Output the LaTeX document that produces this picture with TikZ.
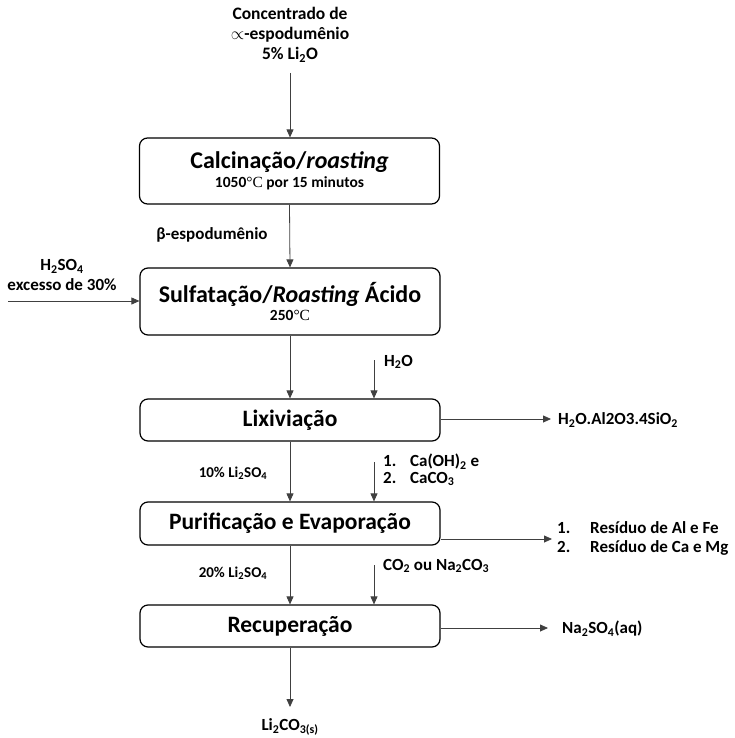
\documentclass[tikz,border=0pt]{standalone}
\usepackage{fontspec}
\setmainfont{Carlito}
\newfontfamily\degfont{Liberation Serif}
\usetikzlibrary{arrows.meta}
\newcommand{\degC}{{\degfont\mdseries °C}}
\newcommand{\sub}[1]{\textsubscript{#1}}
\tikzset{
  procbox/.style={draw=black, line width=1.2pt, rounded corners=8pt, align=center,
    inner sep=0pt, minimum width=300pt, font=\bfseries\fontsize{15.5}{18.5}\selectfont},
  flow/.style={draw=black!75, line width=0.8pt, -{Triangle[length=8pt,width=7pt]}},
  lbl/.style={font=\bfseries\fontsize{17}{19}\selectfont, inner sep=0pt},
  smalllbl/.style={font=\bfseries\fontsize{15}{17}\selectfont, inner sep=0pt}
}
\begin{document}
\begin{tikzpicture}[x=1pt,y=-1pt]
\useasboundingbox (0,0) rectangle (734,738);

% top feed
\node[lbl, align=center, font=\bfseries\fontsize{17.5}{20}\selectfont] (conc) at (290,35)
  {Concentrado de\\$\propto$-espodumênio\\5\% Li\sub{2}O};
\coordinate (cTop) at (290,73);

% boxes
\node[procbox, minimum height=66pt] (b1) at (289.5,171)
  {{\fontsize{24}{24}\selectfont Calcinação/\textit{roasting}}\\
   1050\degC{} por 15 minutos};
\node[procbox, minimum height=67pt] (b2) at (290,301.5)
  {{\fontsize{24}{24}\selectfont Sulfatação/\textit{Roasting} Ácido}\\
   250\degC};
\node[procbox, minimum height=42pt] (b3) at (290,420)
  {\fontsize{23.5}{24}\selectfont Lixiviação};
\node[procbox, minimum height=43pt] (b4) at (290,523.5)
  {\fontsize{23.5}{24}\selectfont Purificação e Evaporação};
\node[procbox, minimum height=42pt] (b5) at (290,626)
  {\fontsize{23.5}{24}\selectfont Recuperação};

% main vertical flow
\draw[flow] (cTop) -- (cTop |- b1.north);
\draw[flow] (b1.south) -- (b2.north);
\draw[flow] (b2.south) -- (b3.north);
\draw[flow] (b3.south) -- (b4.north);
\draw[flow] (b4.south) -- (b5.north);
\coordinate (prod) at (290,707);
\draw[flow] (b5.south) -- (prod);
\node[lbl] (li2co3) at (290,727) {Li\sub{2}CO\sub{3(s)}};

% labels on main flow
\node[lbl] (beta) at (212,235) {β-espodumênio};
\node[smalllbl] (l10) at (233,473) {10\% Li\sub{2}SO\sub{4}};
\node[smalllbl] (l20) at (233,573) {20\% Li\sub{2}SO\sub{4}};

% H2SO4 feed
\node[lbl, align=center, font=\bfseries\fontsize{17}{20}\selectfont] (h2so4) at (62,275) {H\sub{2}SO\sub{4}\\excesso de 30\%};
\coordinate (aIn) at (8,301);
\draw[flow] (aIn) -- (aIn -| b2.west);

% H2O feed
\coordinate (wIn) at (374,360);
\draw[flow] (wIn) -- (wIn |- b3.north);
\node[lbl, anchor=west] (h2o) at (384,362) {H\sub{2}O};

% Ca(OH)2 feed
\coordinate (cIn) at (374,462);
\draw[flow] (cIn) -- (cIn |- b4.north);
\node[lbl, anchor=west, align=left, font=\bfseries\fontsize{17}{16.5}\selectfont] (caoh) at (383,470)
  {\makebox[27pt][l]{1.}Ca(OH)\sub{2} e\\\makebox[27pt][l]{2.}CaCO\sub{3}};

% CO2 feed
\coordinate (dIn) at (374,565);
\draw[flow] (dIn) -- (dIn |- b5.north);
\node[lbl, anchor=west] (co2) at (383,566) {CO\sub{2} ou Na\sub{2}CO\sub{3}};

% outputs
\coordinate (o3) at (551,419);
\draw[flow] (o3 -| b3.east) -- (o3);
\node[lbl, anchor=west] (silic) at (558,420) {H\sub{2}O.Al2O3.4SiO\sub{2}};

\coordinate (o4) at (552,539);
\draw[flow] (o4 -| b4.east) -- (o4);
\node[lbl, anchor=west, align=left, font=\bfseries\fontsize{17}{19}\selectfont] (resid) at (557,538)
  {\makebox[33pt][l]{1.}Resíduo de Al e Fe\\\makebox[33pt][l]{2.}Resíduo de Ca e Mg};

\coordinate (o5) at (548,628);
\draw[flow] (o5 -| b5.east) -- (o5);
\node[lbl, anchor=west] (na2so4) at (562,629) {Na\sub{2}SO\sub{4}(aq)};
\end{tikzpicture}
\end{document}
